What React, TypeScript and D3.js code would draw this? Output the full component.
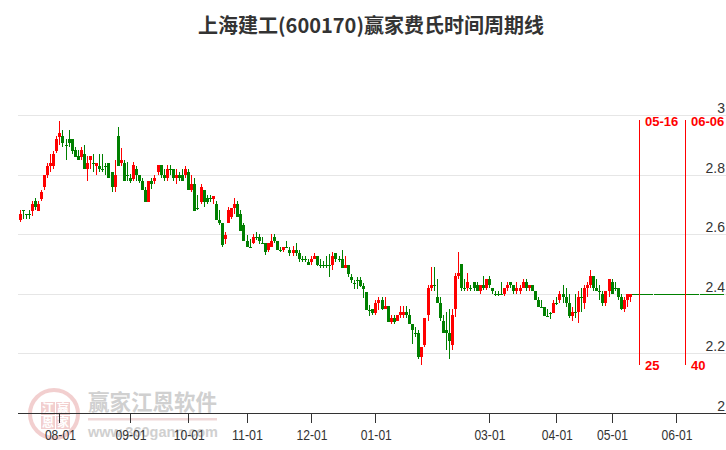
import React from "react";
import * as d3 from "d3";

type C = [number, number, number, number]; // open, close, high, low

const julyCandles: C[] = [
  [2.648,2.668,2.68,2.64],[2.68,2.678,2.68,2.65],[2.668,2.667,2.668,2.65],[2.668,2.667,2.68,2.65],
  [2.678,2.70,2.71,2.66],[2.71,2.69,2.72,2.68],[2.678,2.70,2.71,2.678],[2.718,2.74,2.75,2.71],
  [2.757,2.80,2.80,2.75],[2.798,2.83,2.84,2.79],[2.83,2.84,2.87,2.81],[2.83,2.87,2.88,2.82],
  [2.88,2.92,2.93,2.873],
];
const augCandles: C[] = [
  [2.927,2.94,2.98,2.90],[2.928,2.907,2.95,2.893],[2.898,2.897,2.92,2.85],[2.918,2.907,2.95,2.893],
  [2.918,2.88,2.918,2.87],[2.882,2.86,2.893,2.86],[2.862,2.85,2.882,2.85],[2.86,2.882,2.893,2.85],
  [2.87,2.82,2.90,2.82],[2.82,2.84,2.862,2.78],[2.85,2.862,2.862,2.82],[2.84,2.839,2.87,2.81],
  [2.83,2.84,2.84,2.80],[2.83,2.82,2.87,2.81],[2.82,2.819,2.87,2.81],[2.83,2.829,2.84,2.80],
  [2.84,2.79,2.84,2.79],[2.81,2.758,2.81,2.74],[2.758,2.80,2.85,2.74],[2.93,2.83,2.96,2.83],
  [2.84,2.85,2.89,2.83],[2.84,2.78,2.85,2.78],[2.80,2.799,2.843,2.78],
];
const sepCandles: C[] = [
  [2.79,2.778,2.803,2.772],[2.786,2.831,2.842,2.78],[2.82,2.80,2.828,2.78],[2.80,2.778,2.80,2.772],
  [2.78,2.748,2.79,2.748],[2.75,2.708,2.76,2.708],[2.708,2.78,2.78,2.708],[2.78,2.768,2.79,2.752],
  [2.778,2.79,2.80,2.77],[2.81,2.831,2.831,2.80],[2.831,2.80,2.831,2.79],[2.80,2.79,2.82,2.78],
  [2.79,2.82,2.831,2.778],[2.82,2.819,2.831,2.80],[2.82,2.79,2.82,2.778],[2.79,2.80,2.82,2.77],
  [2.80,2.79,2.81,2.778],[2.80,2.778,2.82,2.778],[2.80,2.82,2.83,2.79],
];
const octCandles: C[] = [
  [2.81,2.748,2.82,2.748],[2.748,2.77,2.80,2.741],[2.77,2.677,2.79,2.677],[2.689,2.688,2.73,2.68],
  [2.708,2.76,2.77,2.70],[2.75,2.708,2.75,2.69],[2.72,2.708,2.73,2.70],[2.72,2.719,2.73,2.708],
  [2.718,2.729,2.729,2.70],[2.70,2.646,2.71,2.646],[2.648,2.637,2.68,2.63],[2.638,2.565,2.638,2.558],
  [2.585,2.598,2.608,2.567],[2.637,2.68,2.69,2.637],[2.657,2.689,2.689,2.65],[2.689,2.70,2.72,2.668],
  [2.70,2.657,2.71,2.657],[2.668,2.61,2.68,2.61],[2.63,2.578,2.638,2.576],
];
const novCandles: C[] = [
  [2.578,2.557,2.598,2.556],[2.557,2.556,2.585,2.556],[2.569,2.589,2.60,2.566],[2.589,2.588,2.609,2.58],
  [2.589,2.578,2.60,2.566],[2.569,2.568,2.589,2.568],[2.569,2.539,2.569,2.529],[2.548,2.569,2.569,2.539],
  [2.557,2.578,2.60,2.557],[2.589,2.578,2.60,2.569],[2.578,2.548,2.578,2.546],[2.548,2.547,2.557,2.539],
  [2.548,2.557,2.557,2.539],[2.557,2.556,2.578,2.556],[2.548,2.538,2.557,2.528],[2.538,2.548,2.56,2.528],
  [2.548,2.538,2.569,2.528],[2.538,2.518,2.548,2.508],[2.518,2.517,2.528,2.508],[2.518,2.517,2.528,2.508],
  [2.508,2.497,2.518,2.497],
];
const decCandles: C[] = [
  [2.508,2.518,2.528,2.497],[2.518,2.528,2.538,2.518],[2.528,2.497,2.528,2.492],[2.497,2.496,2.518,2.488],
  [2.497,2.496,2.51,2.488],[2.497,2.496,2.528,2.488],[2.497,2.496,2.535,2.458],[2.497,2.528,2.539,2.479],
  [2.538,2.518,2.538,2.508],[2.518,2.517,2.528,2.508],[2.518,2.488,2.548,2.488],[2.488,2.497,2.528,2.488],
  [2.497,2.467,2.497,2.458],[2.458,2.447,2.467,2.437],[2.437,2.436,2.447,2.417],[2.447,2.446,2.458,2.417],
  [2.447,2.427,2.456,2.423],[2.427,2.417,2.437,2.386],[2.407,2.346,2.407,2.344],[2.346,2.345,2.364,2.327],
  [2.348,2.337,2.348,2.33],
];
const janCandles: C[] = [
  [2.337,2.369,2.38,2.33],[2.369,2.38,2.39,2.346],[2.38,2.348,2.39,2.346],[2.348,2.358,2.389,2.348],
  [2.358,2.307,2.358,2.307],[2.307,2.318,2.328,2.30],[2.318,2.307,2.328,2.30],[2.308,2.328,2.328,2.308],
  [2.328,2.338,2.358,2.318],[2.328,2.338,2.358,2.318],[2.338,2.328,2.358,2.318],[2.328,2.298,2.348,2.298],
  [2.298,2.279,2.298,2.231],[2.27,2.269,2.288,2.256],[2.27,2.189,2.279,2.182],[2.189,2.22,2.22,2.162],
  [2.227,2.318,2.318,2.22],[2.328,2.419,2.429,2.31],[2.418,2.429,2.49,2.409],
];
const febCandles: C[] = [
  [2.429,2.428,2.49,2.409],[2.389,2.369,2.45,2.369],[2.369,2.318,2.389,2.308],[2.308,2.27,2.328,2.27],
  [2.28,2.27,2.338,2.211],[2.27,2.24,2.348,2.182],[2.229,2.328,2.348,2.213],[2.348,2.46,2.47,2.321],
  [2.46,2.47,2.54,2.45],[2.50,2.419,2.50,2.411],[2.419,2.418,2.45,2.411],[2.419,2.439,2.47,2.411],
  [2.419,2.418,2.429,2.411],[2.439,2.419,2.439,2.411],[2.429,2.409,2.438,2.409],[2.409,2.429,2.429,2.401],
  [2.429,2.419,2.46,2.413],[2.419,2.449,2.449,2.413],
];
const marCandles: C[] = [
  [2.449,2.429,2.46,2.419],[2.419,2.409,2.419,2.40],[2.40,2.399,2.409,2.391],[2.40,2.399,2.409,2.391],
  [2.40,2.399,2.439,2.398],[2.399,2.419,2.419,2.391],[2.419,2.429,2.439,2.409],[2.439,2.429,2.439,2.419],
  [2.429,2.409,2.429,2.40],[2.409,2.419,2.439,2.40],[2.409,2.419,2.429,2.40],[2.419,2.439,2.449,2.419],
  [2.439,2.419,2.449,2.409],[2.419,2.429,2.429,2.409],[2.429,2.409,2.429,2.409],[2.409,2.378,2.409,2.378],
  [2.378,2.357,2.389,2.357],[2.357,2.356,2.378,2.356],[2.357,2.327,2.357,2.327],[2.327,2.326,2.348,2.326],
  [2.337,2.336,2.339,2.317],[2.337,2.369,2.378,2.335],
];
const aprCandles: C[] = [
  [2.369,2.368,2.389,2.363],[2.378,2.40,2.409,2.369],[2.399,2.388,2.429,2.369],[2.389,2.369,2.419,2.357],
  [2.369,2.327,2.399,2.318],[2.327,2.338,2.357,2.31],[2.338,2.337,2.399,2.318],[2.338,2.389,2.409,2.301],
  [2.389,2.388,2.419,2.338],[2.369,2.419,2.429,2.348],[2.419,2.429,2.439,2.389],[2.429,2.46,2.481,2.419],
  [2.46,2.419,2.46,2.409],[2.419,2.409,2.449,2.409],[2.409,2.408,2.429,2.38],[2.399,2.369,2.409,2.36],
  [2.369,2.409,2.409,2.36],[2.409,2.449,2.449,2.389],
];
const mayCandles: C[] = [
  [2.439,2.399,2.449,2.399],[2.419,2.418,2.439,2.409],[2.419,2.389,2.419,2.378],[2.389,2.348,2.399,2.346],
  [2.348,2.378,2.389,2.339],[2.378,2.399,2.399,2.357],[2.389,2.399,2.399,2.371],
];
const projectedCloses = [
  2.4,2.4,2.4,2.4,2.4,2.4,2.4,2.4,2.4,2.4,2.4,2.4,2.4,2.4,2.4,
  2.4,2.4,2.4,2.4,2.4,2.4,2.4,2.4,2.4,2.4,2.4,2.4,2.4,2.4,2.4,
];

const yTicks = [3, 2.8, 2.6, 2.4, 2.2, 2];
const monthLabels = ["08-01","09-01","10-01","11-01","12-01","01-01","03-01","04-01","05-01","06-01"];
const monthIndex = [13, 36, 55, 74, 95, 116, 153, 175, 193, 214];
const markerDates = ["05-16", "06-06"];
const markerCounts = ["25", "40"];
const markerIndex = [202, 217];
const logoChars = ["江", "赢", "恩", "家"];

const RED = "#ff0000";
const GREEN = "#008000";
const SANS = '"Liberation Sans", Arial, sans-serif';
const CJK = '"Noto Sans CJK SC", sans-serif';
const PINK = "#e9a9a9";

export default function App() {
  const candles: C[] = [
    ...julyCandles, ...augCandles, ...sepCandles, ...octCandles, ...novCandles, ...decCandles,
    ...janCandles, ...febCandles, ...marCandles, ...aprCandles, ...mayCandles,
  ];
  const all: C[] = [...candles, ...projectedCloses.map((v): C => [v, v - 0.001, v, v - 0.001])];
  const x = d3.scaleLinear().domain([0, 199]).range([19.5, 630]);
  const y = d3.scaleLinear().domain([2, 3]).range([413, 115]);
  const px = (v: number) => Math.round(v);

  return (
    <svg width={726} height={450} viewBox="0 0 726 450" style={{ position: "fixed", left: 0, top: 0, background: "#fff" }}>
      <g opacity={0.55}>
        <g transform="translate(54,414)" fill="none" stroke={PINK}>
          <circle r={24} strokeWidth={4} />
        </g>
        {logoChars.map((t, i) => {
          const cx = 41 + (i % 2) * 15;
          const cy = 402 + Math.floor(i / 2) * 14;
          return (
            <g key={t}>
              <rect x={cx} y={cy} width={14} height={13} fill={PINK} />
              <text x={cx + 7} y={cy + 11} textAnchor="middle" fontSize={12} fontWeight={700} fill="#fff" fontFamily={CJK}>{t}</text>
            </g>
          );
        })}
        <text x={88} y={410} fontSize={21.5} fontWeight={700} fill="#aaa" fontFamily={CJK}>赢家江恩软件</text>
        <rect x={88} y={418} width={129} height={2.5} fill="#e3b9b9" />
        <text x={88} y={437} fontSize={14.5} fontWeight={700} fill="#aaa" fontFamily={SANS}>www.360gann.com</text>
      </g>

      <text x={371} y={33} textAnchor="middle" fontSize={20} fontWeight={700} fill="#333" fontFamily={CJK}>上海建工(600170)赢家费氏时间周期线</text>

      {yTicks.filter((t) => t > 2).map((t) => (
        <line key={t} x1={18} x2={726} y1={px(y(t)) + 0.5} y2={px(y(t)) + 0.5} stroke="#e6e6e6" />
      ))}
      {yTicks.map((t) => (
        <text key={t} x={725} y={y(t) - 2} textAnchor="end" fontSize={14} fill="#333" fontFamily={SANS}>{d3.format("~g")(t)}</text>
      ))}

      <g shapeRendering="crispEdges">
        {all.map(([o, c, h, l], i) => {
          const color = c >= o ? RED : GREEN;
          const cx = px(x(i));
          const top = px(y(Math.max(o, c)));
          const bot = px(y(Math.min(o, c)));
          return (
            <g key={i} fill={color}>
              <rect x={cx} y={px(y(h))} width={1} height={Math.max(1, px(y(l)) - px(y(h)))} />
              <rect x={cx - 1} y={top} width={3} height={Math.max(1, bot - top)} />
            </g>
          );
        })}
      </g>

      <line x1={18} x2={726} y1={413.5} y2={413.5} stroke="#333" />
      {monthLabels.map((m, i) => (
        <g key={m}>
          <line x1={px(x(monthIndex[i])) + 0.5} x2={px(x(monthIndex[i])) + 0.5} y1={413} y2={423} stroke="#333" />
          <text x={x(monthIndex[i]) + 1} y={440} textAnchor="middle" fontSize={14} textLength={31} lengthAdjust="spacingAndGlyphs" fill="#333" fontFamily={SANS}>{m}</text>
        </g>
      ))}

      {markerIndex.map((m, i) => (
        <g key={m}>
          <line x1={Math.floor(x(m)) + 0.5} x2={Math.floor(x(m)) + 0.5} y1={120} y2={365} stroke={RED} />
          <text x={Math.floor(x(m)) + 6} y={126} fontSize={13} fontWeight={700} fill={RED} fontFamily={SANS}>{markerDates[i]}</text>
          <text x={Math.floor(x(m)) + 6} y={370} fontSize={13} fontWeight={700} fill={RED} fontFamily={SANS}>{markerCounts[i]}</text>
        </g>
      ))}
    </svg>
  );
}
